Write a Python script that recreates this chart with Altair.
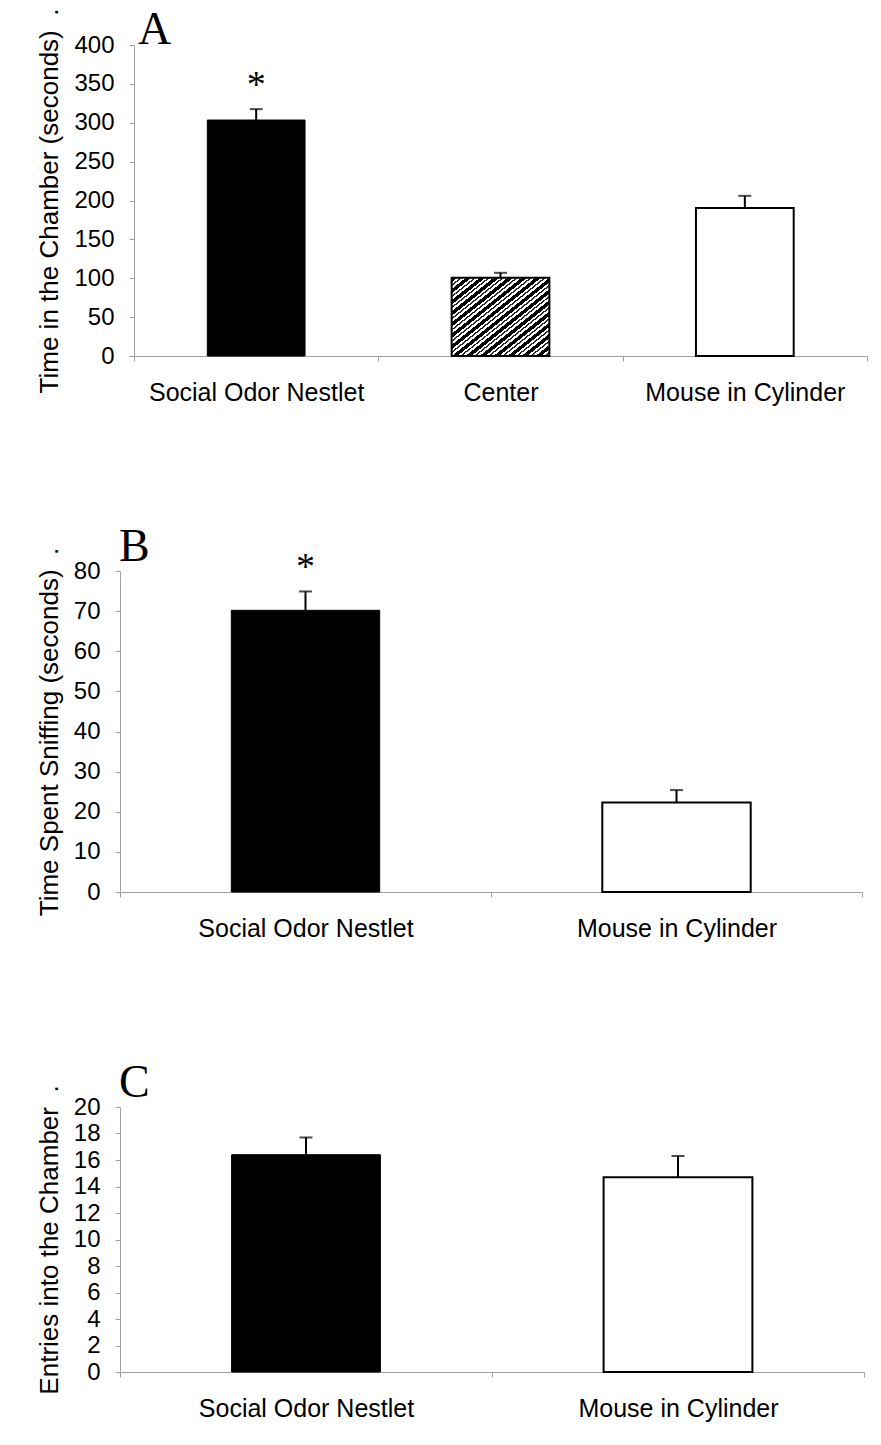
import altair as alt
import pandas as pd

# ---------------- data ----------------
PANEL_LETTERS = ["A", "B", "C"]

A_CATEGORIES = ["Social Odor Nestlet", "Center", "Mouse in Cylinder"]
A_MEANS = [303.5, 100.5, 190.5]
A_SEM = [14.0, 6.5, 15.5]
A_SIG = ["*", "", ""]
A_FILLS = ["black", "hatch", "white"]
A_TICKS = [0, 50, 100, 150, 200, 250, 300, 350, 400]
A_TITLE = "Time in the Chamber (seconds)\u00a0\u00a0."

B_CATEGORIES = ["Social Odor Nestlet", "Mouse in Cylinder"]
B_MEANS = [70.2, 22.3]
B_SEM = [4.7, 3.1]
B_SIG = ["*", ""]
B_FILLS = ["black", "white"]
B_TICKS = [0, 10, 20, 30, 40, 50, 60, 70, 80]
B_TITLE = "Time Spent Sniffing (seconds)\u00a0\u00a0."

C_CATEGORIES = ["Social Odor Nestlet", "Mouse in Cylinder"]
C_MEANS = [16.4, 14.7]
C_SEM = [1.3, 1.6]
C_SIG = ["", ""]
C_FILLS = ["black", "white"]
C_TICKS = [0, 2, 4, 6, 8, 10, 12, 14, 16, 18, 20]
C_TITLE = "Entries into the Chamber\u00a0\u00a0."

# ---------------- styles ----------------
GRAY = "#a0a0a0"
SANS = "Liberation Sans"
SERIF = "Liberation Serif"


def hatch_gradient(periods=14):
    segs = [("black", 0.4), ("white", 0.19), ("#2a2a2a", 0.16), ("white", 0.25)]
    stops = []
    for p in range(periods):
        start = p / periods
        acc = 0.0
        for col, frac in segs:
            a = start + acc / periods
            acc += frac
            b = start + acc / periods
            stops.append({"offset": round(a, 5), "color": col})
            stops.append({"offset": round(min(b, 1.0), 5), "color": col})
    return {"gradient": "linear", "x1": 0, "y1": 0, "x2": 1, "y2": 1, "stops": stops}


FILL_STYLES = {
    "black": dict(fill="black", stroke="black", strokeWidth=1),
    "white": dict(fill="white", stroke="black", strokeWidth=2),
    "hatch": dict(fill=hatch_gradient(), stroke="black", strokeWidth=2),
}


def panel(letter, cats, means, sems, sig, fills, ticks, title, width, height, shift, letter_x, letter_dy):
    df = pd.DataFrame({
        "cat": cats,
        "mean": means,
        "upper": [m + s for m, s in zip(means, sems)],
        "sig": sig,
        "fill": fills,
    })
    xscale = alt.Scale(paddingInner=0, paddingOuter=0, range=[shift, width])
    xaxis = alt.Axis(
        title=None, labelAngle=0, labelFont=SANS, labelFontSize=25, labelColor="black",
        labelPadding=19, labelLimit=0, tickBand="extent", tickSize=5, tickColor=GRAY,
        domainColor=GRAY, domainWidth=1, tickWidth=1,
    )
    yscale = alt.Scale(domain=[ticks[0], ticks[-1]], nice=False)
    yaxis = alt.Axis(
        values=ticks, title=title, titleFont=SANS, titleFontSize=26, titleFontWeight="normal",
        titleColor="black", titlePadding=11, labelFont=SANS, labelFontSize=24, labelColor="black",
        labelPadding=15, labelOverlap=False, labelSeparation=0, tickSize=5, tickColor=GRAY,
        domainColor=GRAY, grid=False, offset=-shift,
    )
    x = alt.X("cat:N", sort=cats, scale=xscale, axis=xaxis)

    def y(field):
        return alt.Y(field, scale=yscale, axis=yaxis)

    base = alt.Chart(df)
    layers = []
    for kind in dict.fromkeys(fills):
        layers.append(
            base.transform_filter(alt.datum.fill == kind)
            .mark_bar(width=alt.RelativeBandSize(0.4), **FILL_STYLES[kind])
            .encode(x=x, y=y("mean:Q"))
        )
    layers.append(
        base.mark_rule(color="black", strokeWidth=2)
        .encode(x=x, y=y("mean:Q"), y2="upper:Q")
    )
    layers.append(
        base.mark_tick(color="black", thickness=2, size=13, orient="horizontal")
        .encode(x=x, y=y("upper:Q"))
    )
    layers.append(
        base.mark_text(font=SERIF, fontSize=38, color="black", baseline="alphabetic", dy=-12)
        .encode(x=x, y=y("upper:Q"), text="sig:N")
    )
    layers.append(
        alt.Chart(pd.DataFrame({"t": [letter]}))
        .mark_text(font=SERIF, fontSize=46, color="black", align="left", baseline="alphabetic", dy=letter_dy)
        .encode(x=alt.value(shift + letter_x), y=alt.value(0), text="t:N")
    )
    return alt.layer(*layers).properties(width=width, height=height)


pa = panel(PANEL_LETTERS[0], A_CATEGORIES, A_MEANS, A_SEM, A_SIG, A_FILLS, A_TICKS, A_TITLE, 747, 311, 14, 4, -1)
pb = panel(PANEL_LETTERS[1], B_CATEGORIES, B_MEANS, B_SEM, B_SIG, B_FILLS, B_TICKS, B_TITLE, 742, 321, 0, -1, -10)
pc = panel(PANEL_LETTERS[2], C_CATEGORIES, C_MEANS, C_SEM, C_SIG, C_FILLS, C_TICKS, C_TITLE, 744, 265, 0, -1, -10)

chart = (
    alt.ConcatChart(concat=[pa, pb, pc], columns=1, align="none", spacing=119)
    .properties(padding={"left": 28, "top": -1, "right": 5, "bottom": 5}, background="white")
    .configure_view(stroke=None)
    .configure_axis(labelOverlap=False)
)

chart.save("out.html", embed_options={"renderer": "svg", "actions": False})
